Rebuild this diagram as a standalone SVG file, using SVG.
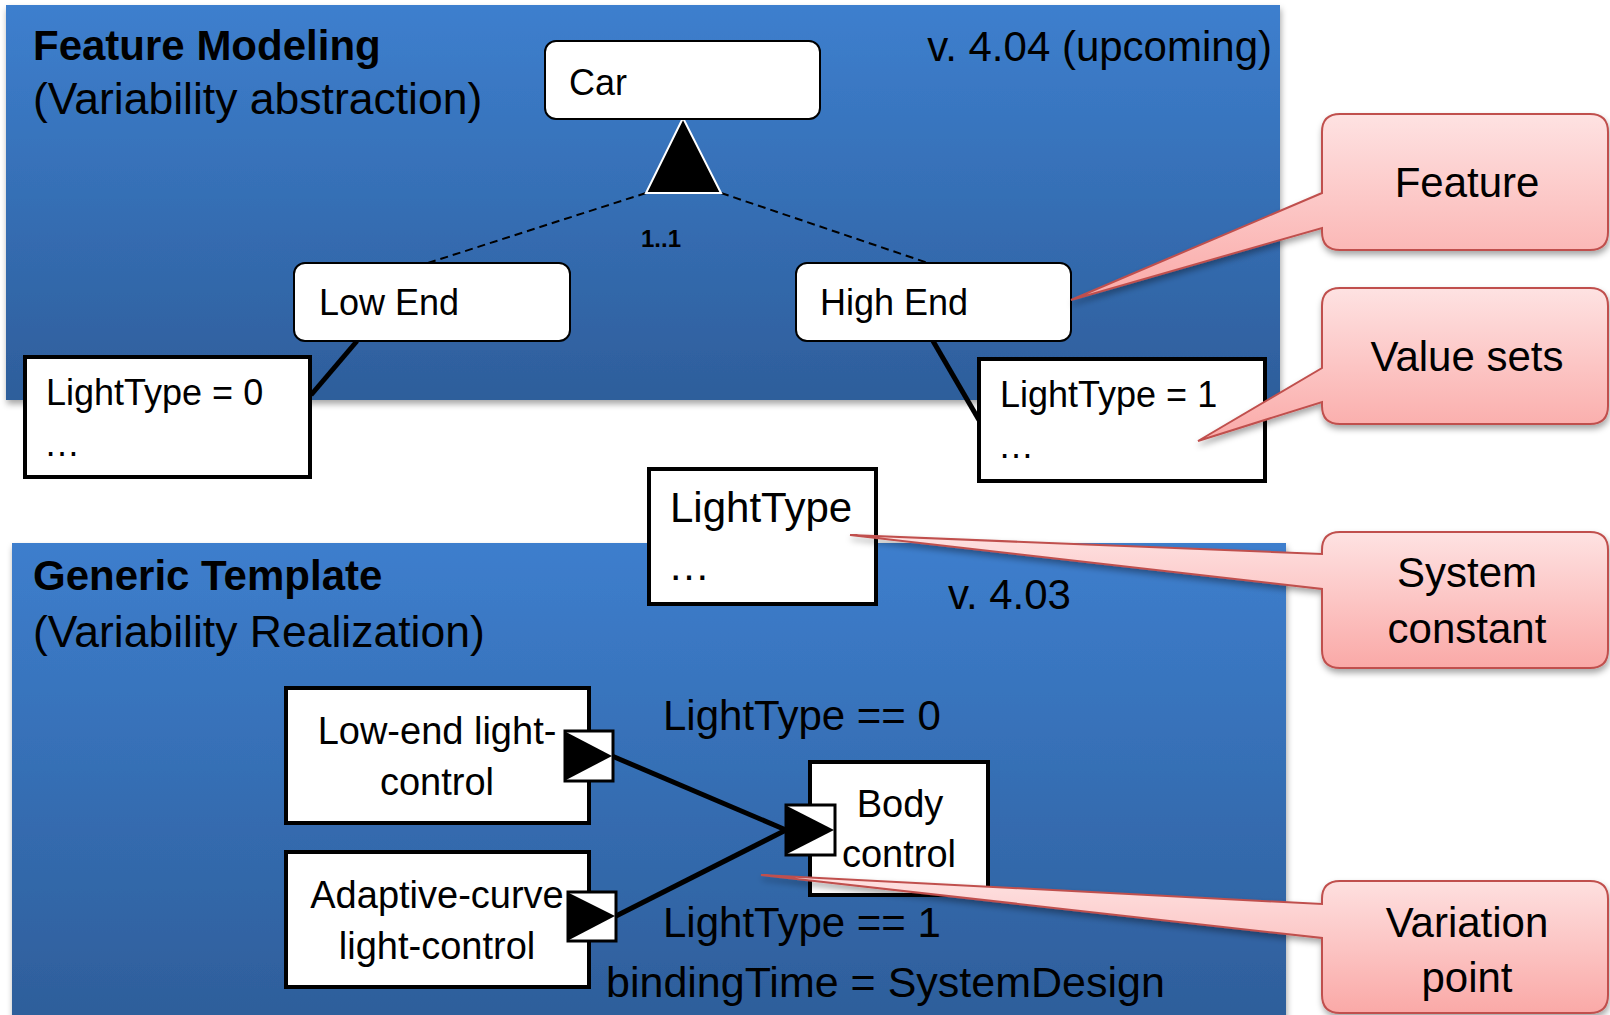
<svg xmlns="http://www.w3.org/2000/svg" width="1610" height="1015" viewBox="0 0 1610 1015">
<defs>
<linearGradient id="blueTop" x1="0" y1="0" x2="0" y2="1">
<stop offset="0" stop-color="#3d7fce"/>
<stop offset="1" stop-color="#2e5e9b"/>
</linearGradient>
<linearGradient id="blueBot" x1="0" y1="0" x2="0" y2="1">
<stop offset="0" stop-color="#3d7ecd"/>
<stop offset="1" stop-color="#2e5e9a"/>
</linearGradient>
<linearGradient id="pink" x1="0" y1="0" x2="0" y2="1">
<stop offset="0" stop-color="#fee2e2"/>
<stop offset="1" stop-color="#faa9a7"/>
</linearGradient>
<filter id="shadow" x="-10%" y="-10%" width="130%" height="130%">
<feDropShadow dx="1" dy="4" stdDeviation="3" flood-color="#000" flood-opacity="0.35"/>
</filter>
<style>
text{font-family:"Liberation Sans",Arial,sans-serif;fill:#000}
.title{font-weight:bold;font-size:42px}
.sub{font-size:44.5px}
.lbl{font-size:36px}
.big{font-size:42px}
.mid{font-size:38px}
.cond{font-size:42px}
.rnode{fill:#fff;stroke:#000;stroke-width:2}
.box{fill:#fff;stroke:#000;stroke-width:4}
.port{fill:#fff;stroke:#000;stroke-width:3}
.call{fill:url(#pink);stroke:#c0504d;stroke-width:2;filter:url(#shadow)}
.thick{stroke:#000;stroke-width:5;fill:none}
.dash{stroke:#000;stroke-width:2;stroke-dasharray:8 5;fill:none}
.ctr{text-anchor:middle}
</style>
</defs>

<g id="panel-feature-modeling">
<rect x="6" y="5" width="1274" height="395" fill="url(#blueTop)" filter="url(#shadow)"/>
<text class="title" x="33" y="60">Feature Modeling</text>
<text class="sub" x="33" y="114">(Variability abstraction)</text>
<text class="big" x="1272" y="61" text-anchor="end">v. 4.04 (upcoming)</text>
</g>

<g id="panel-generic-template">
<rect x="12" y="543" width="1274" height="480" fill="url(#blueBot)" filter="url(#shadow)"/>
<text class="title" x="33" y="590">Generic Template</text>
<text class="sub" x="33" y="647">(Variability Realization)</text>
<text class="big" x="948" y="609">v. 4.03</text>
</g>

<g id="connectors">
<line class="dash" x1="646" y1="193" x2="428" y2="263"/>
<line class="dash" x1="721" y1="193" x2="928" y2="263"/>
<polygon points="683,118 646,193 721,193" fill="#000" stroke="#fff" stroke-width="2"/>
<text x="661" y="247" font-size="24" font-weight="bold" text-anchor="middle">1..1</text>
<line class="thick" x1="357" y1="341" x2="311" y2="395"/>
<line class="thick" x1="933" y1="341" x2="979" y2="420"/>
<line class="thick" x1="612" y1="756" x2="786" y2="830"/>
<line class="thick" x1="616" y1="916" x2="786" y2="830"/>
</g>

<g id="node-car">
<rect class="rnode" x="545" y="41" width="275" height="78" rx="11"/>
<text class="lbl" x="569" y="95">Car</text>
</g>

<g id="node-low-end">
<rect class="rnode" x="294" y="263" width="276" height="78" rx="11"/>
<text class="lbl" x="319" y="315">Low End</text>
</g>

<g id="node-high-end">
<rect class="rnode" x="796" y="263" width="275" height="78" rx="11"/>
<text class="lbl" x="820" y="315">High End</text>
</g>

<g id="node-lighttype-0">
<rect class="box" x="25" y="357" width="285" height="120"/>
<text class="lbl" x="46" y="405">LightType = 0</text>
<text class="lbl" x="44" y="456">…</text>
</g>

<g id="node-lighttype-1">
<rect class="box" x="979" y="359" width="286" height="122"/>
<text class="lbl" x="1000" y="407">LightType = 1</text>
<text class="lbl" x="998" y="458">…</text>
</g>

<g id="node-lighttype">
<rect class="box" x="649" y="469" width="227" height="135"/>
<text class="big" x="670" y="522">LightType</text>
<text class="big" x="668" y="580">…</text>
</g>

<g id="node-low-end-light-control">
<rect class="box" x="286" y="688" width="303" height="135"/>
<text class="mid ctr" x="437" y="744">Low-end light-</text>
<text class="mid ctr" x="437" y="795">control</text>
<rect class="port" x="565" y="731" width="48" height="50"/>
<polygon points="566,732 612,756 566,780" fill="#000"/>
</g>

<g id="node-adaptive-curve-light-control">
<rect class="box" x="286" y="852" width="303" height="135"/>
<text class="mid ctr" x="437" y="908">Adaptive-curve</text>
<text class="mid ctr" x="437" y="959">light-control</text>
<rect class="port" x="568" y="892" width="48" height="49"/>
<polygon points="569,893 615,916 569,940" fill="#000"/>
</g>

<g id="node-body-control">
<rect class="box" x="810" y="762" width="178" height="133"/>
<text class="mid ctr" x="900" y="817">Body</text>
<text class="mid ctr" x="899" y="867">control</text>
<rect class="port" x="786" y="805" width="49" height="50"/>
<polygon points="787,806 834,830 787,854" fill="#000"/>
</g>

<g id="condition-labels">
<text class="cond" x="663" y="730">LightType == 0</text>
<text class="cond" x="663" y="937">LightType == 1</text>
<text x="606" y="997" font-size="43">bindingTime = SystemDesign</text>
</g>

<g id="callout-feature">
<path class="call" d="M1340,114 H1590 Q1608,114 1608,132 V232 Q1608,250 1590,250 H1340 Q1322,250 1322,232 V228 L1071,300 L1322,193 V132 Q1322,114 1340,114 Z"/>
<text class="big ctr" x="1467" y="197">Feature</text>
</g>

<g id="callout-value-sets">
<path class="call" d="M1340,288 H1590 Q1608,288 1608,306 V406 Q1608,424 1590,424 H1340 Q1322,424 1322,406 V402 L1198,441 L1322,368 V306 Q1322,288 1340,288 Z"/>
<text class="big ctr" x="1467" y="371">Value sets</text>
</g>

<g id="callout-system-constant">
<path class="call" d="M1340,532 H1590 Q1608,532 1608,550 V650 Q1608,668 1590,668 H1340 Q1322,668 1322,650 V589 L850,535 L1322,554 V550 Q1322,532 1340,532 Z"/>
<text class="big ctr" x="1467" y="587">System</text>
<text class="big ctr" x="1467" y="643">constant</text>
</g>

<g id="callout-variation-point">
<path class="call" d="M1340,881 H1590 Q1608,881 1608,899 V995 Q1608,1013 1590,1013 H1340 Q1322,1013 1322,995 V938 L761,875 L1322,904 V899 Q1322,881 1340,881 Z"/>
<text class="big ctr" x="1467" y="937">Variation</text>
<text class="big ctr" x="1467" y="992">point</text>
</g>
</svg>
